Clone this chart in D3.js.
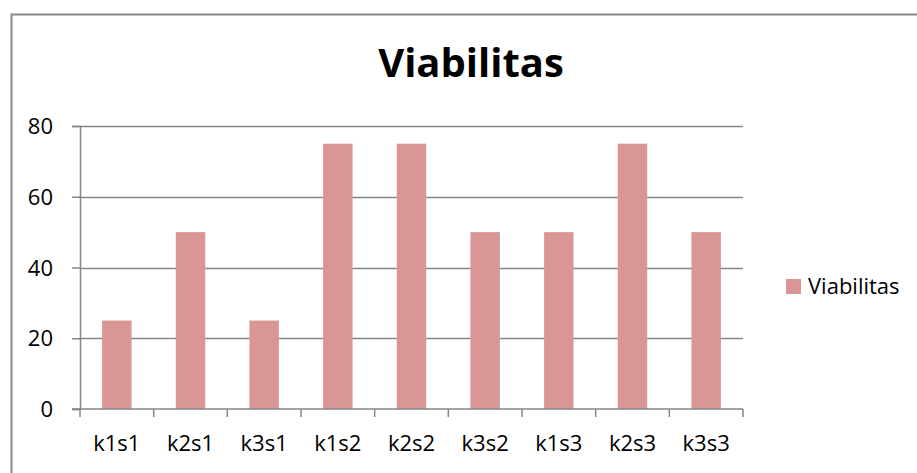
<!DOCTYPE html>
<html lang="id">
<head>
  <meta charset="utf-8" />
  <style>
    body { margin: 0; background: #fff; }
    text { font-family: "Open Sans", Lato, sans-serif; fill: #000; }
  </style>
</head>
<body>
<div id="container"></div>
<script src="https://cdn.jsdelivr.net/npm/d3@7"></script>
<script>

const categories = ['k1s1', 'k2s1', 'k3s1', 'k1s2', 'k2s2', 'k3s2', 'k1s3', 'k2s3', 'k3s3'];
const values = [25, 50, 25, 75, 75, 50, 50, 75, 50];
const yTicks = [0, 20, 40, 60, 80];
const seriesName = 'Viabilitas';

const W = 917, H = 473;
const plot = { left: 80, right: 743, top: 126, bottom: 409 };

const svg = d3.select('#container')
  .append('svg')
  .attr('width', W)
  .attr('height', H);

// chart frame (bottom and right run off the picture)
svg.append('path')
  .attr('d', `M11.5,${H + 2} V14.5 H${W + 2}`)
  .attr('fill', 'none')
  .attr('stroke', '#878787')
  .attr('stroke-width', 2);

const x = d3.scaleBand()
  .domain(categories)
  .range([plot.left, plot.right])
  .paddingInner(0.6)
  .paddingOuter(0.3);

const y = d3.scaleLinear()
  .domain([0, 80])
  .range([plot.bottom, plot.top]);

// gridlines
svg.append('g')
  .selectAll('line')
  .data(yTicks.filter(d => d > 0))
  .join('line')
  .attr('x1', plot.left)
  .attr('x2', plot.right)
  .attr('y1', d => Math.round(y(d)) + 0.5)
  .attr('y2', d => Math.round(y(d)) + 0.5)
  .attr('stroke', '#868686')
  .attr('stroke-width', 1.5);

// bars
svg.append('g')
  .selectAll('rect')
  .data(values)
  .join('rect')
  .attr('x', (d, i) => x(categories[i]))
  .attr('y', d => y(d))
  .attr('width', x.bandwidth())
  .attr('height', d => y(0) - y(d))
  .attr('fill', '#D99694');

// y axis
const yAxis = svg.append('g')
  .attr('transform', `translate(${plot.left},0)`)
  .call(d3.axisLeft(y).tickValues(yTicks).tickSize(8).tickPadding(19));
yAxis.selectAll('line, path').attr('stroke', '#868686').attr('stroke-width', 1.5);
yAxis.selectAll('text').style('font-size', '22px').attr('fill', '#000').attr('dy', '0.35em');

// x axis with ticks between categories
const xAxis = svg.append('g')
  .attr('transform', `translate(0,${plot.bottom})`);
xAxis.append('line')
  .attr('x1', plot.left - 8).attr('x2', plot.right)
  .attr('stroke', '#868686').attr('stroke-width', 1.5);
xAxis.selectAll('.tk')
  .data(d3.range(categories.length + 1))
  .join('line')
  .attr('class', 'tk')
  .attr('x1', i => plot.left + i * (plot.right - plot.left) / categories.length)
  .attr('x2', i => plot.left + i * (plot.right - plot.left) / categories.length)
  .attr('y1', 0).attr('y2', 8)
  .attr('stroke', '#868686').attr('stroke-width', 1.5);
xAxis.selectAll('text')
  .data(categories)
  .join('text')
  .attr('x', d => x(d) + x.bandwidth() / 2)
  .attr('y', 42)
  .attr('text-anchor', 'middle')
  .style('font-size', '22px')
  .text(d => d);

// title
svg.append('text')
  .attr('x', 471)
  .attr('y', 77)
  .attr('text-anchor', 'middle')
  .style('font-size', '40px')
  .style('font-weight', 'bold')
  .text(seriesName);

// legend
const legend = svg.append('g').attr('transform', 'translate(786,279)');
legend.append('rect')
  .attr('width', 15).attr('height', 15)
  .attr('fill', '#D99694');
legend.append('text')
  .attr('x', 22).attr('y', 15)
  .style('font-size', '22px')
  .text(seriesName);

</script>
</body>
</html>
